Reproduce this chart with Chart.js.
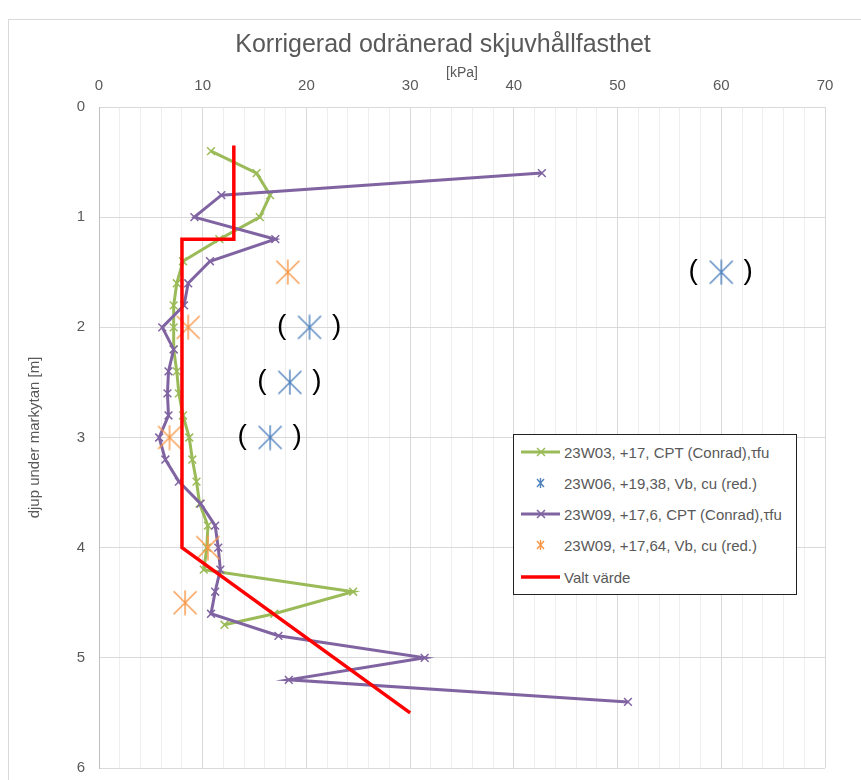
<!DOCTYPE html>
<html>
<head>
<meta charset="utf-8">
<script src="https://cdn.jsdelivr.net/npm/chart.js@4"></script>
<style>
  body { margin: 0; background: #fff; font-family: 'Liberation Sans', sans-serif; }
  #wrap { position: relative; width: 861px; height: 780px; overflow: hidden; }
  #frame { position: absolute; left: 8px; top: 19px; width: 900px; height: 800px; border: 1px solid #d9d9d9; }
  #title { position: absolute; left: 0; width: 886px; top: 29px; text-align: center; font-size: 25px; color: #595959; }
  #legend { position: absolute; left: 513px; top: 434px; width: 282px; height: 159px; border: 1px solid #222; background: #fff; }
  .row { position: absolute; left: 0; height: 20px; display: flex; align-items: center; font-size: 15px; color: #595959; white-space: nowrap; }
  .row svg { margin-left: 7px; margin-right: 3px; }
  canvas { position: absolute; left: 0; top: 0; }
</style>
</head>
<body>
<div id="wrap">
  <div id="frame"></div>
  <canvas id="c" width="861" height="791"></canvas>
  <div id="title">Korrigerad odränerad skjuvhållfasthet</div>
  <div id="legend"></div>
</div>
<script>
// ── data (kPa / m) ─────────────────────────────
const w03Depth = [0.4, 0.6, 0.8, 1.0, 1.2, 1.4, 1.6, 1.8, 2.0, 2.2, 2.4, 2.6, 2.8, 3.0, 3.2, 3.4, 3.6, 3.8, 4.0, 4.2, 4.4, 4.6, 4.7];
const w03Val   = [10.8, 15.2, 16.5, 15.5, 11.6, 8.1, 7.5, 7.2, 7.2, 7.2, 7.5, 7.7, 8.1, 8.7, 9.0, 9.4, 9.7, 10.5, 10.4, 10.1, 24.5, 16.9, 12.1];

const w06Depth = [1.5, 2.0, 2.5, 3.0];
const w06Val   = [60.0, 20.3, 18.4, 16.5];

const w09Depth = [0.6, 0.8, 1.0, 1.2, 1.4, 1.6, 1.8, 2.0, 2.2, 2.4, 2.6, 2.8, 3.0, 3.2, 3.4, 3.6, 3.8, 4.0, 4.2, 4.4, 4.6, 4.8, 5.0, 5.2, 5.4];
const w09Val   = [42.7, 11.8, 9.2, 17.0, 10.7, 8.6, 8.2, 6.1, 7.2, 6.7, 6.6, 6.7, 5.8, 6.4, 7.7, 9.8, 11.2, 11.5, 11.7, 11.2, 10.8, 17.3, 31.4, 18.3, 51.0];

const vbDepth = [1.5, 2.0, 3.0, 4.0, 4.5];
const vbVal   = [18.2, 8.6, 6.8, 10.5, 8.3];

const valtDepth = [0.35, 1.2, 1.2, 4.0, 5.5];
const valtVal   = [13.0, 13.0, 8.0, 8.0, 30.0];

const xTicks = [0, 10, 20, 30, 40, 50, 60, 70];
const yTicks = [0, 1, 2, 3, 4, 5, 6];

const labels = [
  '23W03, +17, CPT (Conrad),τfu',
  '23W06, +19,38, Vb, cu (red.)',
  '23W09, +17,6, CPT (Conrad),τfu',
  '23W09, +17,64, Vb, cu (red.)',
  'Valt värde'
];

const GREEN = '#9bbb59', BLUE = '#4f81bd', PURPLE = '#8064a2', ORANGE = '#f79646', RED = '#ff0000';
const TXT = '#595959';
const FONT = "'Liberation Sans', sans-serif";

const pts = (vals, depths) => vals.map((v, i) => ({ x: v, y: depths[i] }));

// Excel-like star marker: X with a vertical bar
function makeStar(color, size) {
  const c = document.createElement('canvas');
  c.width = c.height = size;
  const g = c.getContext('2d');
  g.strokeStyle = color; g.lineWidth = 1.4;
  const m = 1.5, e = size - 1.5, h = size / 2;
  g.beginPath();
  g.moveTo(m, m); g.lineTo(e, e);
  g.moveTo(e, m); g.lineTo(m, e);
  g.moveTo(h, 0.5); g.lineTo(h, size - 0.5);
  g.stroke();
  return c;
}

// parentheses around the 23W06 points
const parens = {
  id: 'parens',
  afterDatasetsDraw(chart) {
    const g = chart.ctx;
    g.save();
    g.font = "28px 'Liberation Sans', sans-serif";
    g.fillStyle = '#000';
    g.textAlign = 'center';
    g.textBaseline = 'middle';
    chart.getDatasetMeta(1).data.forEach(el => {
      g.fillText('(', el.x - 28, el.y - 1);
      g.fillText(')', el.x + 27, el.y - 1);
    });
    g.restore();
  }
};

const lineSet = (label, data, color, order) => ({
  label, data, order, showLine: true,
  borderColor: color, backgroundColor: color, borderWidth: 3,
  pointStyle: 'crossRot', pointRadius: 5.5, pointBorderWidth: 1.5,
  pointBorderColor: color
});
const starSet = (label, data, color, order) => ({
  label, data, order, showLine: false,
  pointStyle: makeStar(color, 26), pointRadius: 13
});

new Chart(document.getElementById('c'), {
  type: 'scatter',
  data: {
    datasets: [
      lineSet(labels[0], pts(w03Val, w03Depth), GREEN, 4),
      starSet(labels[1], pts(w06Val, w06Depth), BLUE, 3),
      lineSet(labels[2], pts(w09Val, w09Depth), PURPLE, 2),
      starSet(labels[3], pts(vbVal, vbDepth), ORANGE, 1),
      { label: labels[4], data: pts(valtVal, valtDepth), order: 0, showLine: true,
        borderColor: RED, borderWidth: 3.5, pointRadius: 0 }
    ]
  },
  options: {
    responsive: false,
    animation: false,
    layout: { padding: { left: 0, right: 36, top: 58, bottom: 1 } },
    plugins: { legend: { display: false }, tooltip: { enabled: false } },
    scales: {
      x: {
        type: 'linear', position: 'top', min: 0, max: 70,
        afterFit: s => { s.height = 49; },
        afterBuildTicks: s => {
          const t = [];
          for (let v = 0; v <= 70; v += 2) t.push({ value: v });
          s.ticks = t;
        },
        ticks: {
          autoSkip: false, maxRotation: 0, padding: 12, color: TXT,
          font: { family: FONT, size: 15 },
          callback: v => xTicks.includes(v) ? v : ''
        },
        grid: {
          drawTicks: false, lineWidth: 1,
          color: c => (c.tick && c.tick.value % 10 === 0) ? '#d9d9d9' : '#eeeeee'
        },
        border: { color: '#d9d9d9' },
        title: { display: true, text: '[kPa]', color: TXT, font: { family: FONT, size: 14 }, padding: { top: 7, bottom: 0 } }
      },
      y: {
        type: 'linear', reverse: true, min: 0, max: 6,
        afterFit: s => { s.width = 99; },
        afterBuildTicks: s => { s.ticks = yTicks.map(v => ({ value: v })); },
        ticks: { padding: 14, color: TXT, font: { family: FONT, size: 15 } },
        grid: { drawTicks: false, color: '#d9d9d9' },
        border: { color: '#bfbfbf' },
        title: { display: true, text: 'djup under markytan [m]', color: TXT, font: { family: FONT, size: 15 }, padding: { top: 26, bottom: 0 } }
      }
    }
  },
  plugins: [parens]
});

// legend box
const legend = document.getElementById('legend');
const rowTops = [7, 38, 69, 100, 132];
const legendColors = [GREEN, BLUE, PURPLE, ORANGE, RED];
labels.forEach((txt, i) => {
  const c = legendColors[i];
  let svg;
  if (i === 0 || i === 2) {
    svg = `<line x1="0" y1="10" x2="39" y2="10" stroke="${c}" stroke-width="3"/>` +
          `<path d="M16 6 L24 14 M24 6 L16 14" stroke="${c}" stroke-width="1.5"/>`;
  } else if (i === 4) {
    svg = `<line x1="0" y1="10" x2="39" y2="10" stroke="${c}" stroke-width="3.5"/>`;
  } else {
    svg = `<path d="M16 6 L23 14 M23 6 L16 14 M19.5 5 L19.5 15" stroke="${c}" stroke-width="1.4"/>`;
  }
  const row = document.createElement('div');
  row.className = 'row';
  row.style.top = rowTops[i] + 'px';
  row.innerHTML = `<svg width="40" height="20">${svg}</svg><span>${txt}</span>`;
  legend.appendChild(row);
});
</script>
</body>
</html>
